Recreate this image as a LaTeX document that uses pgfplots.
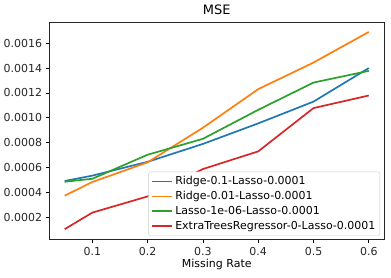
\documentclass[border=0pt]{standalone}
\usepackage{pgfplots}
\pgfplotsset{compat=1.18}
\usepackage{fontspec}
\setmainfont{DejaVu Sans}
\definecolor{c0}{HTML}{1F77B4}
\definecolor{c1}{HTML}{FF7F0E}
\definecolor{c2}{HTML}{2CA02C}
\definecolor{c3}{HTML}{D62728}
\begin{document}
\fontsize{11}{13}\selectfont
\begin{tikzpicture}
\begin{axis}[
  scale only axis,
  width=335pt, height=218pt,
  xmin=0.0225, xmax=0.6275,
  ymin=0.0000205, ymax=0.00177,
  xtick={0.1,0.2,0.3,0.4,0.5,0.6},
  ytick={0.0002,0.0004,0.0006,0.0008,0.0010,0.0012,0.0014,0.0016},
  scaled y ticks=false,
  scaled x ticks=false,
  yticklabel style={/pgf/number format/.cd,fixed,fixed zerofill,precision=4},
  xticklabel style={/pgf/number format/.cd,fixed,precision=1},
  /pgf/number format/assume math mode=true,
  tick align=outside,
  tick pos=left,
  major tick length=3.5pt,
  tick style={black, line width=0.8pt},
  axis line style={line width=0.8pt, black!85},
  title={MSE},
  title style={font=\fontsize{13}{15}\selectfont, yshift=-3pt},
  xlabel={Missing Rate},
  xlabel style={font=\fontsize{11}{13}\selectfont, yshift=4pt},
  ticklabel style={font=\fontsize{11}{13}\selectfont, text=black!85},
  legend style={at={(1,0)}, anchor=south east, xshift=-4pt, yshift=4pt,
    draw=black!20, rounded corners=2pt, fill=white,
    font=\fontsize{11}{13}\selectfont, row sep=1pt, inner sep=2.5pt},
  legend cell align=left,
  legend image code/.code={\draw[#1, line width=1.7pt] (0cm,0cm) -- (0.72cm,0cm);},
]
\addplot[c0, line width=1.7pt] coordinates {(0.05,0.000492) (0.1,0.000535) (0.2,0.000646) (0.3,0.000790) (0.4,0.000955) (0.5,0.00113) (0.6,0.00140)};
\addlegendentry{Ridge-0.1-Lasso-0.0001}
\addplot[c1, line width=1.7pt] coordinates {(0.05,0.000374) (0.1,0.000484) (0.2,0.000642) (0.3,0.000920) (0.4,0.00123) (0.5,0.001444) (0.6,0.00169)};
\addlegendentry{Ridge-0.01-Lasso-0.0001}
\addplot[c2, line width=1.7pt] coordinates {(0.05,0.000486) (0.1,0.000510) (0.2,0.000703) (0.3,0.000831) (0.4,0.001064) (0.5,0.001283) (0.6,0.001377)};
\addlegendentry{Lasso-1e-06-Lasso-0.0001}
\addplot[c3, line width=1.7pt] coordinates {(0.05,0.000105) (0.1,0.000238) (0.2,0.000368) (0.3,0.000588) (0.4,0.000730) (0.5,0.001078) (0.6,0.001179)};
\addlegendentry{ExtraTreesRegressor-0-Lasso-0.0001}
\end{axis}
\path (current axis.south west) ++(-49pt,-38pt) coordinate (bl);
\path (current axis.north east) ++(7pt,22pt) coordinate (tr);
\useasboundingbox (bl) rectangle (tr);
\end{tikzpicture}
\end{document}
